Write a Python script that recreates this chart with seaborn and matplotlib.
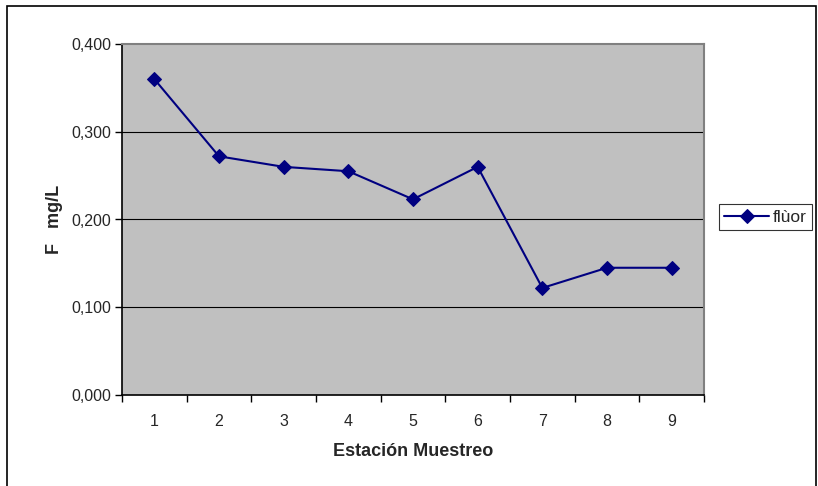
import matplotlib
matplotlib.use("Agg")
import matplotlib.pyplot as plt
import seaborn as sns
import pandas as pd
from matplotlib.patches import Rectangle
from matplotlib.ticker import FuncFormatter

estaciones = [1, 2, 3, 4, 5, 6, 7, 8, 9]
fluor = [0.360, 0.272, 0.260, 0.255, 0.223, 0.260, 0.122, 0.145, 0.145]
serie = "flùor"
y_ticks = [0.0, 0.1, 0.2, 0.3, 0.4]

sns.set_theme(style="white")
plt.rcParams['font.family'] = ['Liberation Sans', 'DejaVu Sans']

df = pd.DataFrame({"Estación": estaciones, "F": fluor, "serie": serie})

fig = plt.figure(figsize=(8.18, 4.86), dpi=100)
fig.patch.set_facecolor("white")
ax = fig.add_axes([122/818, 1-395/486, (704-122)/818, (395-44)/486])
ax.set_facecolor("#c0c0c0")

sns.lineplot(data=df, x="Estación", y="F", hue="serie", palette=["#000080"],
             marker="D", markersize=7, markeredgecolor="#000080", linewidth=1.5, ax=ax)

ax.set_xlim(0.5, 9.5)
ax.set_ylim(0, 0.4)
ax.set_yticks(y_ticks)
ax.yaxis.set_major_formatter(FuncFormatter(lambda v, p: f"{v:.3f}".replace(".", ",")))
ax.set_xticks([i + 0.5 for i in range(0, 10)])
ax.set_xticklabels([])
ax.set_xticks(estaciones, minor=True)
ax.set_xticklabels([str(e) for e in estaciones], minor=True)
ax.tick_params(axis="x", which="major", direction="out", length=5, width=1, color="black", bottom=True)
ax.tick_params(axis="x", which="minor", length=0, pad=14, labelsize=11.5)
ax.tick_params(axis="y", direction="out", length=5, width=1, color="black", left=True, labelsize=11.5, pad=3)

for v in [0.1, 0.2, 0.3]:
    ax.axhline(v, color="black", linewidth=0.8, zorder=0.5)

for s in ["left", "bottom"]:
    ax.spines[s].set_color("black")
    ax.spines[s].set_linewidth(1.2)
for s in ["top", "right"]:
    ax.spines[s].set_color("#808080")
    ax.spines[s].set_linewidth(1.5)

ax.set_xlabel("Estación Muestreo", fontsize=13, fontweight="bold", labelpad=10)
ax.set_ylabel("F   mg/L", fontsize=13, fontweight="bold", labelpad=6)

handles, labels = ax.get_legend_handles_labels()
ax.legend(handles, labels, loc="center left", bbox_to_anchor=(719/818, 1-217/486),
          bbox_transform=fig.transFigure, frameon=True, fancybox=False,
          edgecolor="black", facecolor="white", fontsize=12.5, handlelength=2.6,
          handletextpad=0.2, borderpad=0.3, borderaxespad=0)
leg = ax.get_legend()
leg.get_frame().set_linewidth(0.8)

fig.patches.append(Rectangle((7/818, -0.05), (816-7)/818, 1-6/486 + 0.05,
                             transform=fig.transFigure, fill=False,
                             edgecolor="black", linewidth=1.2))

fig.savefig("out.png", dpi=100)
